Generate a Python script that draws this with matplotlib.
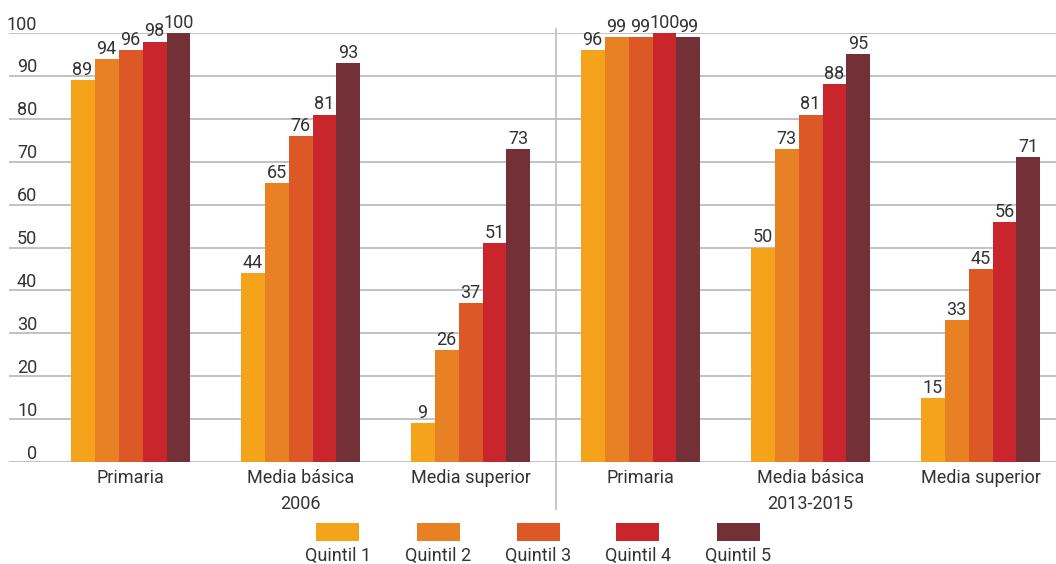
import matplotlib
matplotlib.use("Agg")
import matplotlib.pyplot as plt
import matplotlib.transforms as mtransforms
from matplotlib.patches import Rectangle
from matplotlib.lines import Line2D
import numpy as np

plt.rcParams["font.family"] = ["Roboto", "DejaVu Sans"]

levels = ["Primaria", "Media básica", "Media superior"]
periods = ["2006", "2013-2015"]
quintiles = ["Quintil 1", "Quintil 2", "Quintil 3", "Quintil 4", "Quintil 5"]
colors = ["#F6A31C", "#E88024", "#DC5827", "#C9252D", "#733036"]

# rows = quintile, columns = level within period (2006 then 2013-2015)
q1 = [89, 44, 9, 96, 50, 15]
q2 = [94, 65, 26, 99, 73, 33]
q3 = [96, 76, 37, 99, 81, 45]
q4 = [98, 81, 51, 100, 88, 56]
q5 = [100, 93, 73, 99, 95, 71]
series = [q1, q2, q3, q4, q5]

TEXT = "#333333"
GRID = "#BDBDBD"
FS = 13

fig = plt.figure(figsize=(10.56, 5.64), dpi=100)
ax = fig.add_axes([9 / 1056, 102 / 564, 1047 / 1056, 429 / 564])

x = np.arange(len(q1))
width = 0.141
for i, (vals, c) in enumerate(zip(series, colors)):
    offs = (i - 2) * width
    bars = ax.bar(x + offs, vals, width, color=c, linewidth=0, zorder=3)
    for rect, v in zip(bars, vals):
        ax.text(rect.get_x() + rect.get_width() / 2, v + 1.2, f"{v}",
                ha="center", va="baseline", fontsize=FS, color=TEXT, clip_on=False)

ax.set_xlim(-0.715, 5.444)
ax.set_ylim(0, 100)
for s in ax.spines.values():
    s.set_visible(False)
ax.set_xticks([])
ax.set_yticks([])

# horizontal grid with labels sitting just above each line
trans = mtransforms.blended_transform_factory(ax.transAxes, ax.transData)
for v in range(0, 101, 10):
    ax.axhline(v, color=GRID, linewidth=1.3, zorder=1)
    ax.text(0.027, v + 0.8, f"{v}", transform=trans, ha="right", va="baseline",
            fontsize=FS, color=TEXT)

# separator between periods
ax.add_line(Line2D([2.5, 2.5], [101, -11], color=GRID, linewidth=1.2,
                   clip_on=False, zorder=1))

for xi in x:
    ax.text(xi, -3.8, levels[xi % 3], ha="center", va="center",
            fontsize=FS, color=TEXT, clip_on=False)
for p, xi in zip(periods, (1, 4)):
    ax.text(xi, -9.9, p, ha="center", va="center", fontsize=FS, color=TEXT,
            clip_on=False)

# legend: swatches with labels underneath
for i, (lab, c) in enumerate(zip(quintiles, colors)):
    cx = (338 + 100 * i) / 1056
    fig.add_artist(Rectangle((cx - 21.5 / 1056, 23 / 564), 43 / 1056, 18 / 564,
                             transform=fig.transFigure, color=c, linewidth=0))
    fig.text(cx, 8 / 564, lab, ha="center", va="center", fontsize=FS, color=TEXT)

fig.savefig("out.png", dpi=100)
